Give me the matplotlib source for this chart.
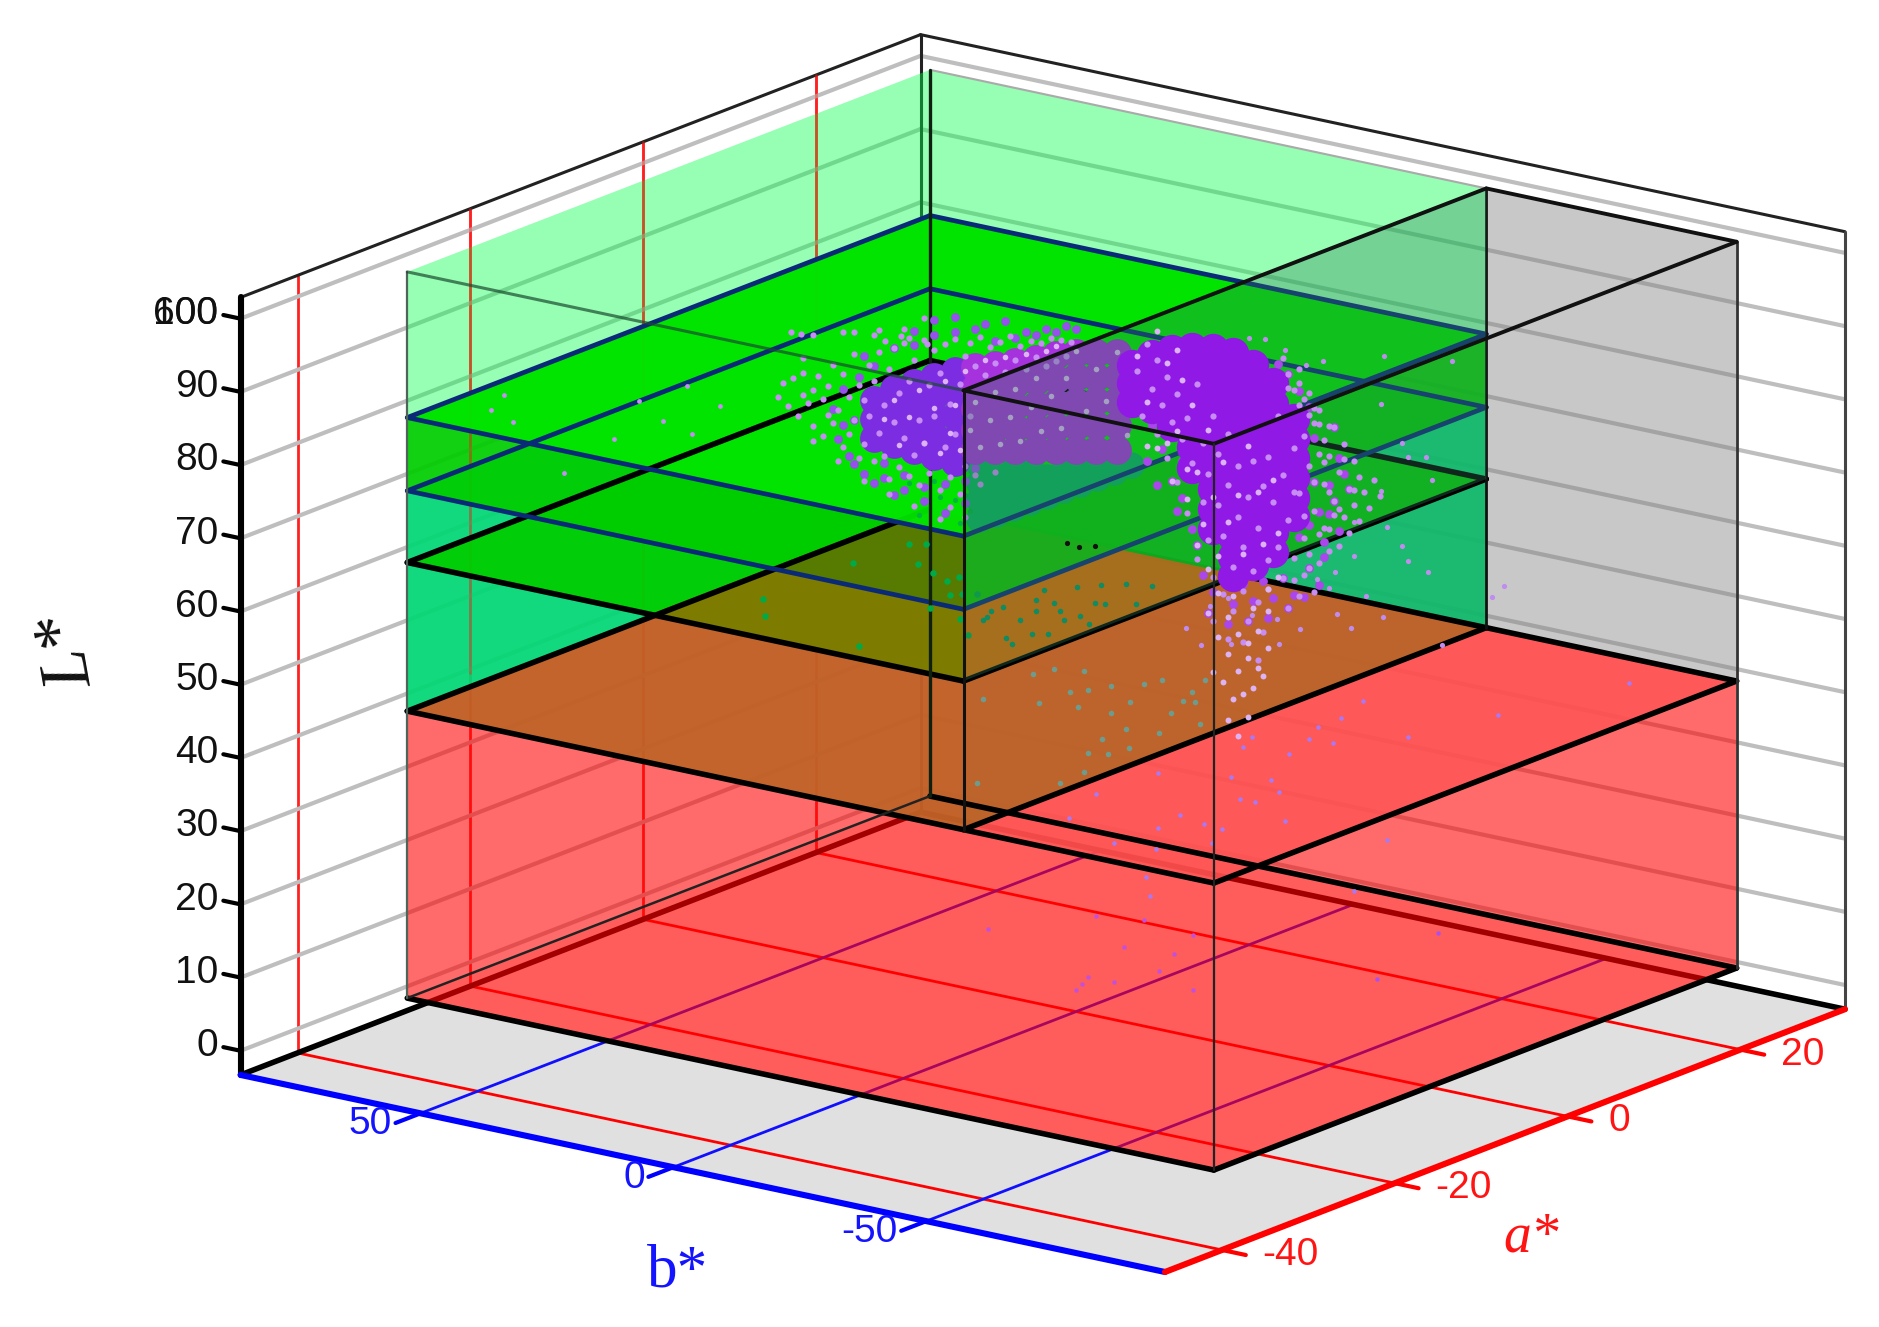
import numpy as np
import matplotlib
matplotlib.use("Agg")
import matplotlib.pyplot as plt
from mpl_toolkits.mplot3d import proj3d
from mpl_toolkits.mplot3d.art3d import Poly3DCollection

plt.rcParams["font.family"] = ["Liberation Sans"]

W, H = 1879, 1327

# axis ranges and ticks
a_lim = (-46.6, 32.1)
b_lim = (-97.2, 85.6)
L_lim = (-3.3, 102.9)
a_ticks = [-40, -20, 0, 20]
b_ticks = [50, 0, -50]
L_ticks = [0, 10, 20, 30, 40, 50, 60, 70, 80, 90, 100]

# colour-zone box
box_a = (-30, 30.5)
box_b = (-78.5, 81)
b_mid = -29
L_bottom = 0.3
L_red = 39.5
L_black = 59.8
L_blue_low = 69.6
L_blue_high = 79.6
L_top = 99.5

# the depth of a point cannot be read off the picture, so each group sits at one a*
# points behind the dividing wall
left_halo_b = [59, 58, 57, 56, 55, 54, 54, 53, 52, 52,
               51, 50, 50, 49, 48, 48, 47, 46, 46, 45,
               45, 44, 44, 43, 43, 42, 42, 41, 41, 40,
               40, 39, 39, 38, 38, 37, 37, 36, 36, 35,
               35, 34, 34, 33, 33, 32, 32, 31, 31, 30,
               30, 29, 29, 28, 28, 27, 27, 26, 26, 25,
               25, 24, 24, 23, 23, 22, 22, 21, 21, 20,
               20, 19, 18, 17, 16, 15, 14, 13, 12, 11,
               10, 9, 8, 7, 6, 5, 4, 3, 2, 1,
               56.3, 54.4, 52, 46, 40, 37.7, 34.6, 33, 29.4,
               54, 52, 49, 47, 44, 42, 39, 37, 34, 32, 30, 27, 25, 22, 19, 16]
left_halo_L = [72, 74, 71, 75, 70, 73, 76, 72, 69, 74,
               76, 68, 73, 75, 70, 78, 72, 67, 77, 74,
               69, 80, 71, 66, 76, 74, 68, 79, 72, 66,
               77, 70, 81, 67, 74, 64, 79, 72, 82, 66,
               76, 70, 83, 65, 78, 68, 81, 73, 64, 84,
               70, 78, 66, 83, 74, 64, 80, 70, 84, 76,
               66, 85, 72, 79, 64, 83, 68, 85, 75, 82,
               67, 86, 81, 85, 83, 86, 82, 87, 84, 86,
               83, 87, 85, 87, 84, 88, 85, 88, 86, 88,
               81.2, 81.2, 81.5, 82.7, 83.2, 82.8, 83.9, 83.8, 83.5,
               78, 67, 71, 65, 83, 63, 84, 62, 85, 61, 87, 60, 62, 61, 66, 68]
left_speckle_b = [38, 36, 35, 33, 31, 30, 28, 27, 26, 25,
                  24, 23, 22, 21, 20, 19, 18, 17, 16, 15,
                  14, 13, 12, 11, 10, 9, 8, 7, 6, 5,
                  4, 3, 2, 0, -2, -4, -6, -8, -10, -12]
left_speckle_L = [72, 75, 69, 73, 77, 70, 75, 69, 79, 72,
                  76, 70, 81, 73, 77, 71, 83, 75, 79, 72,
                  84, 76, 80, 73, 85, 78, 82, 75, 86, 80,
                  87, 76, 83, 87, 79, 85, 81, 88, 77, 84]
left_fringe_b = [48, 47, 46, 45, 44, 43, 42, 41, 40, 46,
                 44, 42, 40, 38, 36, 34, 32, 30, 28, 26,
                 24, 22, 20, 38, 36, 34, 32, 30, 28, 26,
                 24, 22, 20, 18, 16, 14, 12, 10, 8, 6,
                 4, 2, 0]
left_fringe_L = [72, 68, 75, 66, 71, 77, 64, 74, 79, 70,
                 65, 80, 63, 64, 82, 63, 83, 64, 85, 65,
                 86, 66, 68, 66, 62, 65, 85, 62, 87, 61,
                 88, 63, 87, 88, 86, 89, 87, 88, 88, 89,
                 89, 90, 90]
far_left_b = [70.5, 72.9, 68.6, 58.6, 48.6, 43.8, 39, 34.3, 33.2, 27.7]
far_left_L = [82, 79.6, 78.6, 73, 79.1, 85.1, 83.1, 88.5, 82.1, 86.8]
left_blob_b = [40, 40, 40, 36, 36, 36, 36, 32, 32, 32, 32,
               28, 28, 28, 28, 28, 24, 24, 24, 24, 24]
left_blob_L = [74.3, 71.8, 69.2, 76.5, 74, 71.4, 68.9, 77.9, 74.8, 71.7, 68.7,
               79.3, 76.6, 73.9, 71.2, 68.5, 80.7, 77.6, 74.5, 71.4, 68.2]
back_blob_b = [20, 20, 20, 20, 20, 16, 16, 16, 16, 16,
               12, 12, 12, 12, 12, 8, 8, 8, 8, 8,
               4, 4, 4, 4, 4, 0, 0, 0, 0, 0,
               -4, -4, -4, -4, -4, -8, -8, -8, -8, -8]
back_blob_L = [81.8, 78.9, 76, 73.2, 70.4, 82.7, 79.8, 76.9, 74, 71,
               83.6, 80.6, 77.6, 74.6, 71.6, 84.7, 81.6, 78.4, 75.3, 72.2,
               85.8, 82.5, 79.2, 76, 72.8, 86.7, 83.4, 80, 76.7, 73.4,
               87.3, 84, 80.7, 77.4, 74, 87.9, 84.6, 81.3, 78, 74.6]
teal_b = [19.2, 19.2, 19.2, 19.2, 15.8, 15.8, 15.8, 12.5, 12.5, 12.5,
          9.2, 9.2, 9.2, 5.8, 5.8, 2.5, 2.5, -0.8, -0.8, -4.2, -4.2, -7.5, -10.8]
teal_L = [61.1, 63.7, 66.1, 68.6, 62.4, 65, 67.5, 63.7, 66.3, 68.8,
          65, 67.6, 70.1, 66.3, 68.9, 67.6, 70.2, 68.9, 71.4, 70.2, 72.5, 71.5, 73]
shadow_b = [33, 30, 28, 26, 24, 22, 31, 27, 23, 21]
shadow_L = [64, 62, 65, 61, 63, 64, 60, 63, 60, 62]
green_b = [44.2, 33, 29.6, 31.3, 28.2, 23.2, 25.6, 24.9, 22.5, 19.6,
           62, 61.5, 43, 23, 21.3, 28.9]
green_L = [51.5, 55.7, 56.2, 53.2, 52.5, 52.6, 51.7, 49.9, 50.4, 50.8,
           43.9, 41.7, 40.3, 46.9, 45, 47.6]
dark_green_b = [18.5, 16.8, 14.4, 13.9, 11.1, 8.7, 8, 6.3, 5.6, 3.2,
                2.3, -0.1, -0.8, -2.5, -4.9, -5.8, -9.9, -11.8, -15.1, 12.7,
                17.7, 8, 4.4, -3.7]
dark_green_L = [47.4, 48.9, 49.8, 45.7, 48.5, 47, 51.7, 53.3, 47.5, 50.9,
                49.8, 54.7, 50.9, 50, 55.7, 53.2, 56.5, 54.1, 57.1, 45.1,
                48, 50.2, 51.9, 53.1]
grey_green_b = [18.5, 8.5, 4.4, -1.5, -7, 1.3, 7.3, -2.3, -10.6, -13.5,
                -17, -23, -25.4, -21.1, -23.5, -0.4, -7, -9.9, -18.7, -16.3,
                -5.1, -2.3, -10.4, -24.6, 3.2, 19.6, -6.3, -1.5]
grey_green_L = [36.7, 41.6, 42.9, 43.4, 42.2, 40.2, 37.8, 40.9, 40.5, 43.5,
                44.5, 43.8, 45.8, 42.2, 42.4, 38.3, 38.5, 36.8, 40.2, 37.2,
                34.7, 32.3, 34.2, 39.6, 27.4, 25, 32.8, 29.6]

# points in front of it
core_b = [-11, -11, -11, -15, -15, -15, -15, -19, -19, -19, -19, -19,
          -23, -23, -23, -23, -23, -23, -23,
          -27, -27, -27, -27, -27, -27, -27, -27, -27, -27,
          -31, -31, -31, -31, -31, -31, -31, -31, -31, -31, -31, -31,
          -35, -35, -35, -35, -35, -35, -35, -35, -35, -35, -35,
          -39, -39, -39, -39, -39, -39, -39, -39, -39,
          -43, -43, -43, -43, -43, -43]
core_L = [86.7, 84.2, 81.6, 88.6, 86.2, 83.8, 81.3, 89.8, 87.2, 84.6, 82, 79.5,
          90.7, 88, 85.3, 82.6, 79.9, 77.2, 74.3,
          91.2, 88.5, 85.8, 83, 80.3, 77.6, 74.8, 72, 69.3, 66.6,
          91.2, 88.5, 85.8, 83, 80.2, 77.4, 74.6, 71.8, 69, 66.2, 63.4, 60.7,
          90.2, 87.4, 84.6, 81.8, 79, 76.2, 73.4, 70.6, 67.8, 65, 62.9,
          88.3, 85.4, 82.5, 79.6, 76.7, 73.8, 70.9, 68, 65.2,
          84, 81.3, 78.6, 75.9, 73.2, 70.7]
right_fringe_b = [-44, -45, -46, -47, -48, -49, -50, -51, -52, -53,
                  -44, -46, -48, -50, -52, -45, -47, -49, -51, -54,
                  -25, -27, -29, -31, -33, -35, -37, -39, -41, -43,
                  -26, -30, -34, -38, -42, -14, -16, -18, -20, -22,
                  -13, -15, -17, -19, -21, -23, -24, -21, -18, -15,
                  -46, -44, -42, -40]
right_fringe_L = [68, 78, 64, 82, 72, 66, 76, 84, 70, 78,
                  84, 70, 62, 72, 80, 60, 76, 68, 74, 76,
                  60, 58, 61, 57, 60, 58, 61, 59, 62, 60,
                  55, 54, 55, 56, 58, 74, 71, 78, 68, 73,
                  83, 79, 76, 72, 70, 66, 64, 75, 81, 85,
                  86, 88, 90, 91]
right_halo_b = [-38, -39, -40, -40, -41, -41, -42, -42, -43, -43,
                -44, -44, -45, -45, -46, -46, -47, -47, -48, -48,
                -49, -49, -50, -50, -51, -51, -52, -52, -53, -53,
                -54, -54, -55, -55, -56, -56, -57, -58, -59, -60,
                -12, -13, -14, -15, -16, -16, -17, -18, -18, -19,
                -20, -20, -21, -22, -22, -23, -24, -24, -25, -25,
                -26, -26, -27, -27, -28, -28, -29, -29, -30, -30,
                -31, -31, -32, -32, -33, -33, -34, -34, -35, -35,
                -36, -36, -37, -37, -38, -38, -30, -27, -33, -36,
                -42, -43, -44, -45, -46, -47, -48, -49, -50, -51,
                -42, -43, -44, -45, -46, -47, -48, -49, -50, -52,
                -41, -44, -46, -48, -50, -53, -55, -47, -45, -43]
right_halo_L = [60, 72, 66, 84, 76, 62, 88, 70, 80, 65,
                74, 86, 68, 82, 78, 64, 72, 86, 84, 69,
                76, 82, 70, 80, 74, 84, 68, 78, 72, 82,
                76, 70, 80, 74, 72, 78, 76, 74, 78, 76,
                86, 80, 90, 84, 78, 88, 82, 75, 86, 80,
                72, 84, 78, 68, 81, 75, 62, 86, 70, 78,
                65, 74, 82, 60, 70, 77, 58, 66, 73, 80,
                62, 56, 69, 76, 59, 65, 72, 55, 62, 77,
                58, 68, 74, 54, 64, 78, 52, 54, 52, 50,
                58, 62, 60, 63, 66, 61, 65, 70, 67, 72,
                90, 88, 89, 87, 85, 84, 80, 79, 75, 73,
                92, 91, 88, 86, 84, 80, 76, 76, 71, 74]
core_speckle_b = [-14, -16, -18, -19, -20, -21, -22, -23, -24, -25,
                  -26, -27, -28, -29, -30, -31, -32, -33, -34, -35,
                  -36, -37, -38, -39, -40, -24, -26, -28, -30, -32,
                  -34, -36, -38, -40, -18, -20, -22, -16, -14, -12,
                  -26, -28, -30, -32, -34, -36, -38, -27, -29, -31,
                  -33, -35, -37, -30, -32, -34]
core_speckle_L = [82, 76, 88, 72, 79, 86, 70, 83, 74, 67,
                  80, 71, 63, 76, 68, 58, 72, 64, 79, 57,
                  73, 66, 60, 75, 68, 64, 61, 58, 55, 53,
                  52, 54, 57, 62, 77, 90, 74, 92, 76, 88,
                  55, 52, 50, 48, 50, 49, 52, 47, 46, 44,
                  45, 46, 48, 41, 39, 42]
mid_b = [12.4, 7.6, 4.1, -0.7, -5.5, 9.5, 3.6, -5.9, -10.2, -17.4,
         -20.2, -26.6, -15.9, -23.1, -30.2, -31.4, -35.5, -20.7, -17.1, -13.5,
         -48.1, -50.5, -38.1, -27.4, -20.7, -26.2, -36.2, -35, -31.4, -30.2,
         -26.2, -40.2, -26.7, -14.7, -11.2, -7.1, -3.1, 0]
mid_L = [38.2, 41.8, 43.5, 41.9, 42, 36.3, 37.2, 38.6, 41.3, 44.4,
         43, 45.4, 47.8, 47.7, 55.6, 53.8, 52.9, 52.9, 50.1, 48.6,
         51.3, 53.2, 43.3, 57.8, 57.5, 62.6, 65.5, 68.5, 67.9, 69.7,
         74.4, 82.4, 81, 78.6, 77.6, 79, 79.9, 79.6]
low_b = [-75.2, -49.3, -31.4, -22.6, -18.3, -13.6, -11.9, -16.7, -0.7, 1.2,
         -7.9, 3.6, -4.3, -6, 1.7, -1.2, -7.1, 5.3, 8.8, 13.6,
         17.9, 17.9, 30.3, 35.5, 26.7, 18.4, 7.2, 20.3, 19.5, -27.4, -20.7]
low_L = [43.5, 35.3, 29.7, 33.3, 30.4, 28.5, 26.5, 26.7, 25.2, 23.6,
         23.9, 19.1, 19.9, 18.4, 16.4, 16.4, 14.6, 11.8, 11.9, 12.4,
         10, 17.5, 12.9, 8.8, 6.7, 7.1, 9.6, 3, 0.5, 15, 7.1]
floor_b = [-38.1, -47.6, -57.2, -16.7, -43.6, -53.6, -50.5, -57.2, -41.7, -35.3, -36.5, -34.1]
floor_L = [24.5, 25.3, 24.7, 19.6, 21.1, 21.6, 18.8, 17.2, 16, 14.8, 15.9, 13.8]
edge_b = [-59.6, -71.5]
edge_L = [9.9, 18]
black_b = [1.8, -0.6, -3.7]
black_L = [60.5, 60.2, 60.8]

NAVY = "#0a2a78"
LAVENDER = "#c88cf5"
PALE = "#dcb4f5"
PURPLE = "#9119e6"


def rgb(r, g, b):
    return (r / 255, g / 255, b / 255)


fig = plt.figure(figsize=(W / 100, H / 100), dpi=100)
ax = fig.add_axes([0, 0, 1, 1], projection="3d", proj_type="ortho", computed_zorder=False)
ax.set_axis_off()
ax.view_init(elev=16.68, azim=216.6)
ax.set_xlim3d(*a_lim, view_margin=0)
ax.set_ylim3d(*b_lim, view_margin=0)
ax.set_zlim3d(*L_lim, view_margin=0)
ax.set_box_aspect((1141, 1152, 812))


def quad(pts, color, alpha, z):
    poly = Poly3DCollection([pts], facecolors=[(*color, alpha)], edgecolors="none", zorder=z)
    ax.add_collection3d(poly, autolim=False)


def level(a0, a1, b0, b1, L, color, alpha, z):
    quad([(a0, b0, L), (a1, b0, L), (a1, b1, L), (a0, b1, L)], color, alpha, z)


def wall_a(a, b0, b1, L0, L1, color, alpha, z):
    quad([(a, b0, L0), (a, b1, L0), (a, b1, L1), (a, b0, L1)], color, alpha, z)


def wall_b(b, a0, a1, L0, L1, color, alpha, z):
    quad([(a0, b, L0), (a1, b, L0), (a1, b, L1), (a0, b, L1)], color, alpha, z)


def seg(p, q, color, lw, z, alpha=1.0):
    ax.plot([p[0], q[0]], [p[1], q[1]], [p[2], q[2]], color=color, lw=lw, alpha=alpha,
            zorder=z, solid_capstyle="round")


def dots(b, L, a, size, color, z, alpha=1.0):
    ax.scatter([a] * len(b), b, L, s=size, color=color, alpha=alpha, linewidths=0,
               depthshade=False, zorder=z)


def outline(L, color, lw, z):
    corners = [(xa0, b_mid), (xa0, xb1), (xa1, xb1), (xa1, b_mid), (xa0, b_mid)]
    for c, d in zip(corners[:-1], corners[1:]):
        seg((*c, L), (*d, L), color, lw, z)


a0, a1 = a_lim
b0, b1 = b_lim
Lm, LM = L_lim
xa0, xa1 = box_a
xb0, xb1 = box_b
WALL = rgb(50, 120, 90)

# outer floor, grid lines, outer frame
level(a0, a1, b0, b1, Lm, rgb(224, 224, 224), 1, 1)
level(xa0, xa1, xb0, xb1, L_bottom, (1, 1, 1), 1, 1)
for t in a_ticks:
    seg((t, b0, Lm), (t, b1, Lm), "#ff0000", 2, 2)
    seg((t, b1, Lm), (t, b1, LM), "#ff2020", 2, 2)
for t in b_ticks:
    seg((a0, t, Lm), (a1, t, Lm), "#1010ff", 2, 2)
for t in L_ticks:
    seg((a0, b1, t), (a1, b1, t), "#bebebe", 3, 2)
    seg((a1, b1, t), (a1, b0, t), "#bebebe", 3, 2)
seg((a0, b1, Lm), (a1, b1, Lm), "black", 4, 3)
seg((a1, b1, Lm), (a1, b0, Lm), "black", 4, 3)
seg((a0, b1, LM), (a1, b1, LM), "#222222", 2.2, 3)
seg((a1, b1, LM), (a1, b0, LM), "#222222", 2.2, 3)
seg((a1, b1, Lm), (a1, b1, LM), "#222222", 2.2, 3)
seg((a1, b0, Lm), (a1, b0, LM), "#444444", 2.2, 3)

# floor and back walls of the zone box
level(xa0, xa1, xb0, xb1, L_bottom, rgb(255, 0, 0), 0.64, 5)
wall_b(xb1, xa0, xa1, L_bottom, L_red, rgb(255, 0, 0), 0.58, 6)
wall_a(xa1, xb0, xb1, L_bottom, L_red, rgb(255, 0, 0), 0.58, 6)
wall_b(xb1, xa0, xa1, L_red, L_blue_low, rgb(0, 215, 115), 0.93, 6)
wall_a(xa1, b_mid, xb1, L_red, L_blue_low, rgb(0, 215, 115), 0.93, 6)
wall_b(xb1, xa0, xa1, L_blue_low, L_blue_high, rgb(0, 205, 0), 0.93, 6)
wall_a(xa1, b_mid, xb1, L_blue_low, L_blue_high, rgb(0, 205, 0), 0.93, 6)
wall_b(xb1, xa0, xa1, L_blue_high, L_top, rgb(0, 255, 72), 0.41, 6)
wall_a(xa1, b_mid, xb1, L_blue_high, L_top, rgb(0, 255, 72), 0.41, 6)
wall_a(xa1, xb0, b_mid, L_red, L_top, rgb(128, 128, 128), 0.43, 6)
seg((xa1, xb1, L_top), (xa1, b_mid, L_top), "#aaaaaa", 1.5, 6)
wall_b(b_mid, xa0, xa1, L_red, L_black, WALL, 0.33, 6)

# horizontal planes, lowest first
level(xa0, xa1, b_mid, xb1, L_red, rgb(190, 100, 40), 0.93, 7)
level(xa0, xa1, xb0, b_mid, L_red, rgb(255, 85, 85), 0.86, 7)
for t in a_ticks[1:]:
    seg((t, b1, L_red), (t, b1, LM), "#ff2020", 2, 7, alpha=0.45)
seg((xa1, xb1, L_red), (xa1, b_mid, L_red), "black", 4, 7)

level(xa0, xa1, b_mid, xb1, L_black, rgb(0, 205, 0), 0.93, 8)
quad([(xa0, b_mid, L_black), (1.8, 25.3, L_black), (1.8, 33, L_black), (xa0, 33, L_black)],
     rgb(130, 120, 0), 0.96, 8)
quad([(xa0, b_mid, L_black), (1.8, b_mid, L_black), (1.8, 25.3, L_black)],
     rgb(232, 103, 0), 0.96, 8)
level(xa0, xa1, b_mid, xb1, L_blue_low, rgb(0, 205, 0), 0.93, 9)
quad([(xa0, b_mid, L_blue_low), (-12.1, 1.6, L_blue_low), (-12.1, 9.3, L_blue_low), (xa0, 9.3, L_blue_low)],
     rgb(90, 120, 0), 0.96, 9)
seg((xa0, xb1, L_red), (xa1, xb1, L_red), "black", 4, 9)
level(xa0, xa1, b_mid, xb1, L_blue_high, rgb(0, 230, 0), 0.95, 10)

dots(teal_b, teal_L, 0, 360, rgb(5, 180, 90), 11)
dots(shadow_b, shadow_L, 0, 14, rgb(0, 180, 60), 11)

# plane outlines that the cloud hides
outline(L_black, "black", 4, 12)
outline(L_blue_low, NAVY, 3.4, 12)
outline(L_blue_high, NAVY, 3.4, 12)
seg((xa0, xb0, L_red), (xa1, xb0, L_red), "black", 4, 12)
seg((xa0, xb0, L_red), (xa0, xb1, L_red), "black", 4, 12)
seg((xa1, xb0, L_red), (xa1, b_mid, L_red), "black", 4, 12)
seg((xa0, b_mid, L_red), (xa1, b_mid, L_red), "black", 4, 12)
seg((xa0, xb0, L_bottom), (xa0, xb1, L_bottom), "black", 4, 12)
seg((xa0, xb0, L_bottom), (xa1, xb0, L_bottom), "black", 4, 12)
seg((xa1, xb0, L_bottom), (xa1, xb1, L_bottom), "black", 4, 12)
seg((xa0, xb1, L_bottom), (xa1, xb1, L_bottom), "#222222", 1.8, 12)
seg((xa0, xb1, L_bottom), (xa0, xb1, L_top), "#50645a", 1.6, 12)
seg((xa1, xb1, L_bottom), (xa1, xb1, L_top), "#102010", 2.4, 12)
seg((xa1, b_mid, L_red), (xa1, b_mid, L_top), "#111111", 2, 12)
seg((xa1, xb0, L_bottom), (xa1, xb0, L_top), "#333333", 2, 12)

# cloud behind the dividing wall
dots(green_b, green_L, 0, 22, rgb(0, 170, 70), 13)
dots(dark_green_b, dark_green_L, 0, 16, rgb(0, 150, 100), 13)
dots(grey_green_b, grey_green_L, 0, 16, rgb(110, 155, 140), 13)
dots(left_fringe_b, left_fringe_L, 0, 40, rgb(150, 80, 235), 13)
dots(left_blob_b, left_blob_L, 0, 430, rgb(125, 45, 225), 13)
dots(back_blob_b, back_blob_L, 0, 430, rgb(165, 50, 220), 13)
dots(left_halo_b, left_halo_L, 0, 20, LAVENDER, 13)
dots(left_speckle_b, left_speckle_L, 0, 16, PALE, 13)
dots(far_left_b, far_left_L, -25, 12, LAVENDER, 13)

wall_b(b_mid, xa0, xa1, L_black, L_top, WALL, 0.33, 14)

# cloud in front of it
dots(right_fringe_b, right_fringe_L, 0, 40, rgb(170, 70, 235), 15)
dots(core_b, core_L, 0, 510, PURPLE, 15)
dots(right_halo_b, right_halo_L, 0, 20, LAVENDER, 15)
dots(core_speckle_b, core_speckle_L, 0, 18, PALE, 15)
dots(mid_b, mid_L, 20, 14, "#c08cf0", 15)
dots(low_b, low_L, 20, 11, "#aa78f0", 15)
dots(floor_b, floor_L, -20, 10, "#c050e0", 15)
dots(edge_b, edge_L, 0, 10, "#aa50f0", 15)
dots(black_b, black_L, 0, 14, "#111111", 15)

# edges in front of everything
seg((xa0, xb1, L_top), (xa0, b_mid, L_top), "#1a4a30", 2.2, 16, alpha=0.7)
seg((xa0, b_mid, L_top), (xa0, xb0, L_top), "#111111", 2.8, 16)
seg((xa0, b_mid, L_top), (xa1, b_mid, L_top), "#111111", 2.8, 16)
seg((xa0, xb0, L_top), (xa1, xb0, L_top), "#111111", 2.8, 16)
seg((xa1, b_mid, L_top), (xa1, xb0, L_top), "#111111", 2.8, 16)
seg((xa0, b_mid, L_red), (xa0, b_mid, L_top), "#111111", 2.2, 16)
seg((xa0, xb0, L_bottom), (xa0, xb0, L_top), "#222222", 1.6, 16)

# axes and ticks
seg((a0, b1, Lm), (a0, b1, LM), "black", 4.4, 17)
seg((a0, b1, Lm), (a0, b0, Lm), "#0000ff", 4.4, 17)
seg((a0, b0, Lm), (a1, b0, Lm), "#ff0000", 4.4, 17)
for t in L_ticks:
    seg((a0, b1, t), (a0, b1 + 3.4, t), "black", 3, 17)
for t in b_ticks:
    seg((a0, t, Lm), (a0 - 2.9, t, Lm), "#0000ff", 3, 17)
for t in a_ticks:
    seg((t, b0, Lm), (t, b0 - 4.7, Lm), "#ff0000", 3, 17)

# move the square axes so the floor corners land where the reference has them
ax.apply_aspect()
us, vs, _ = proj3d.proj_transform(np.array([a0, a1]), np.array([b0, b0]), np.array([Lm, Lm]), ax.get_proj())
px = ax.transData.transform(np.c_[us, vs])
scale = (1845 - 1165) / (px[1, 0] - px[0, 0])
bb = ax.get_position()
left = 1165 - (px[0, 0] - bb.x0 * W) * scale
bottom = (H - 1272) - (px[0, 1] - bb.y0 * H) * scale
side = bb.width * W * scale
ax.set_position([left / W, bottom / H, side / W, side / H])
ax.apply_aspect()
M = ax.get_proj()


def label(a, b, L, text, color, ha):
    u, v, _ = proj3d.proj_transform(a, b, L, M)
    x, y = ax.transData.transform((u, v))
    fig.text(x / W, y / H, text, color=color, ha=ha, va="center", fontsize=28)


for t in L_ticks:
    label(a0, b1 + 4.4, t, str(t), "#111111", "right")
# the top label is printed twice over in the original
label(a0, b1 + 4.4, 100, "600", "#111111", "right")
for t in b_ticks:
    label(a0 - 3.3, t, Lm, str(t), "#1414ff", "right")
for t in a_ticks:
    label(t, b0 - 8, Lm + 0.5, str(t), "#ff1414", "left")

fig.text(678 / W, 1 - 1272 / H, "b*", family="Liberation Serif", fontsize=44, color="#1414ff",
         ha="center", va="center")
fig.text(1531 / W, 1 - 1238 / H, "a*", family="Liberation Serif", style="italic", fontsize=40,
         color="#ff1414", ha="center", va="center")
fig.text(69 / W, 1 - 652 / H, "L*", family="Liberation Serif", style="italic", fontsize=50,
         color="#111111", ha="center", va="center", rotation=100)

fig.savefig("out.png", dpi=100)
